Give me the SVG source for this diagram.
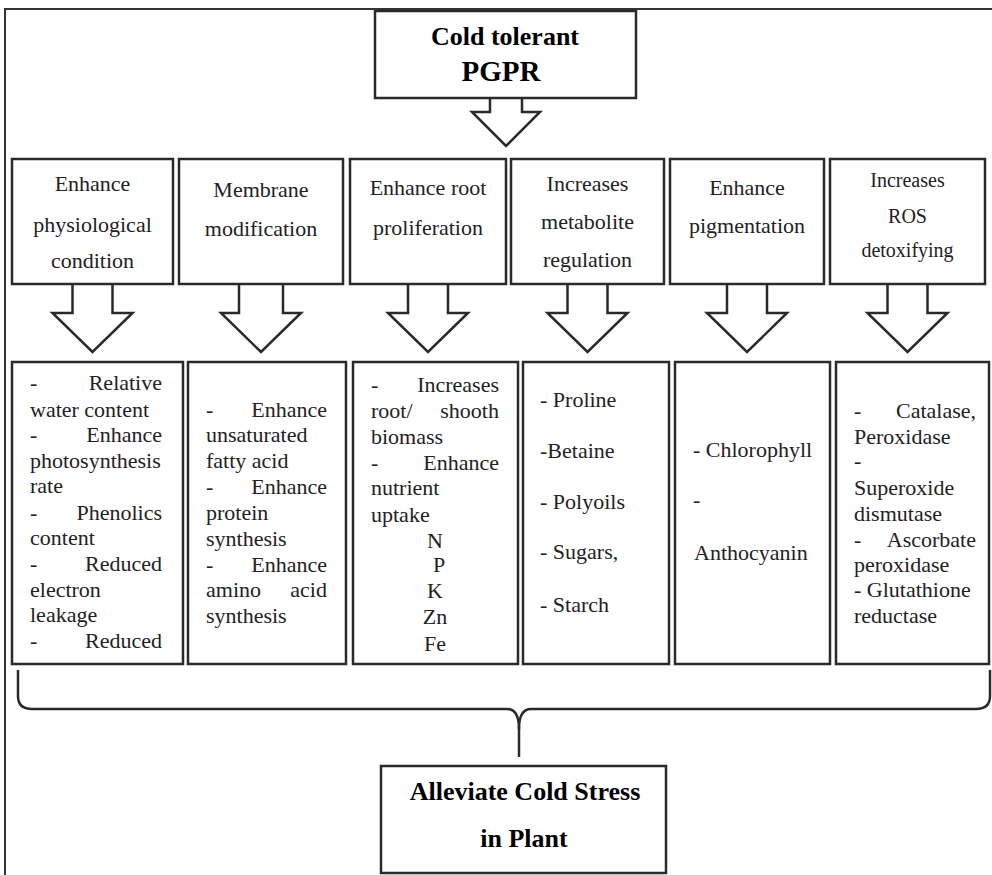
<svg xmlns="http://www.w3.org/2000/svg" width="992" height="875" viewBox="0 0 992 875">
<style>
.box{fill:#fff;stroke:#2a2a2a;stroke-width:2.5}
.frame{fill:none;stroke:#333;stroke-width:2}
.t{font-family:'Liberation Serif','Times New Roman',serif;font-size:22px;fill:#222}
.s{font-size:20px}
.c{text-anchor:middle}
.e{text-anchor:end}
.b{font-weight:bold;fill:#000;font-size:26px}
.arr{fill:#fff;stroke:#2a2a2a;stroke-width:2.5;stroke-linejoin:miter}
.brace{fill:none;stroke:#2a2a2a;stroke-width:2.5}
</style>
<rect width="992" height="875" fill="#fff"/>
<path class="frame" d="M5 875 L5 9 L992 9"/>

<g id="connectors">
<polyline class="arr" points="490,98 490,112 472,112 506,146 540,112 522,112 522,98"/>
<polyline class="arr" points="72.5,284 72.5,313 52.5,313 92.5,352 132.5,313 112.5,313 112.5,284"/>
<polyline class="arr" points="239,284 239,313 221,313 261,352 301,313 283,313 283,284"/>
<polyline class="arr" points="408,284 408,313 388,313 428,352 468,313 448,313 448,284"/>
<polyline class="arr" points="567.5,284 567.5,313 547.5,313 587.5,352 627.5,313 607.5,313 607.5,284"/>
<polyline class="arr" points="727,284 727,313 707,313 747,352 787,313 767,313 767,284"/>
<polyline class="arr" points="887.5,284 887.5,313 867.5,313 907.5,352 947.5,313 927.5,313 927.5,284"/>
<path class="brace" d="M18 670 L18 696 Q18 709 32 709 L507 709 Q519 709 519 729 Q519 709 531 709 L976 709 Q990 709 990 696 L990 670"/>
<path class="brace" d="M519 726 L519 757"/>
</g>

<g id="pgpr">
<rect class="box" x="375" y="11" width="261" height="87"/>
<text class="t b c" x="505" y="45">Cold tolerant</text>
<text class="t b c" x="501" y="81" style="font-size:29px">PGPR</text>
</g>

<g id="h1">
<rect class="box" x="12" y="159" width="161" height="125"/>
<text class="t c" x="92.5" y="191">Enhance</text>
<text class="t c" x="92.5" y="232">physiological</text>
<text class="t c" x="92.5" y="268">condition</text>
</g>
<g id="h2">
<rect class="box" x="179" y="159" width="164" height="125"/>
<text class="t c" x="261" y="197">Membrane</text>
<text class="t c" x="261" y="236">modification</text>
</g>
<g id="h3">
<rect class="box" x="350" y="159" width="156" height="125"/>
<text class="t c" x="428" y="195">Enhance root</text>
<text class="t c" x="428" y="235">proliferation</text>
</g>
<g id="h4">
<rect class="box" x="511" y="159" width="153" height="125"/>
<text class="t c" x="587.5" y="191">Increases</text>
<text class="t c" x="587.5" y="229">metabolite</text>
<text class="t c" x="587.5" y="267">regulation</text>
</g>
<g id="h5">
<rect class="box" x="670" y="159" width="154" height="125"/>
<text class="t c" x="747" y="195">Enhance</text>
<text class="t c" x="747" y="233">pigmentation</text>
</g>
<g id="h6">
<rect class="box" x="830" y="159" width="155" height="125"/>
<text class="t s c" x="907.5" y="187">Increases</text>
<text class="t s c" x="907.5" y="223">ROS</text>
<text class="t s c" x="907.5" y="257">detoxifying</text>
</g>

<g id="d1">
<rect class="box" x="12" y="362" width="171" height="302"/>
<text class="t" x="30" y="390">-</text><text class="t e" x="162" y="390">Relative</text>
<text class="t" x="30" y="417">water content</text>
<text class="t" x="30" y="442">-</text><text class="t e" x="162" y="442">Enhance</text>
<text class="t" x="30" y="468">photosynthesis</text>
<text class="t" x="30" y="493">rate</text>
<text class="t" x="30" y="520">-</text><text class="t e" x="162" y="520">Phenolics</text>
<text class="t" x="30" y="545">content</text>
<text class="t" x="30" y="571">-</text><text class="t e" x="162" y="571">Reduced</text>
<text class="t" x="30" y="597">electron</text>
<text class="t" x="30" y="622">leakage</text>
<text class="t" x="30" y="648">-</text><text class="t e" x="162" y="648">Reduced</text>
</g>
<g id="d2">
<rect class="box" x="188" y="362" width="158" height="302"/>
<text class="t" x="206" y="417">-</text><text class="t e" x="327" y="417">Enhance</text>
<text class="t" x="206" y="442">unsaturated</text>
<text class="t" x="206" y="468">fatty acid</text>
<text class="t" x="206" y="494">-</text><text class="t e" x="327" y="494">Enhance</text>
<text class="t" x="206" y="520">protein</text>
<text class="t" x="206" y="546">synthesis</text>
<text class="t" x="206" y="572">-</text><text class="t e" x="327" y="572">Enhance</text>
<text class="t" x="206" y="597">amino</text><text class="t e" x="327" y="597">acid</text>
<text class="t" x="206" y="623">synthesis</text>
</g>
<g id="d3">
<rect class="box" x="353" y="362" width="165" height="302"/>
<text class="t" x="371" y="392">-</text><text class="t e" x="499" y="392">Increases</text>
<text class="t" x="371" y="418">root/</text><text class="t e" x="499" y="418">shooth</text>
<text class="t" x="371" y="444">biomass</text>
<text class="t" x="371" y="470">-</text><text class="t e" x="499" y="470">Enhance</text>
<text class="t" x="371" y="495">nutrient</text>
<text class="t" x="371" y="522">uptake</text>
<text class="t c" x="435" y="548">N</text>
<text class="t c" x="439" y="572">P</text>
<text class="t c" x="435" y="598">K</text>
<text class="t c" x="435" y="624">Zn</text>
<text class="t c" x="435" y="651">Fe</text>
</g>
<g id="d4">
<rect class="box" x="523" y="362" width="146" height="302"/>
<text class="t" x="540" y="407">- Proline</text>
<text class="t" x="540" y="458">-Betaine</text>
<text class="t" x="540" y="509">- Polyoils</text>
<text class="t" x="540" y="559">- Sugars,</text>
<text class="t" x="540" y="612">- Starch</text>
</g>
<g id="d5">
<rect class="box" x="675" y="362" width="155" height="302"/>
<text class="t" x="693" y="457">- Chlorophyll</text>
<text class="t" x="693" y="507">-</text>
<text class="t" x="694" y="560">Anthocyanin</text>
</g>
<g id="d6">
<rect class="box" x="836" y="362" width="153" height="302"/>
<text class="t" x="854" y="418">-</text><text class="t e" x="976" y="418">Catalase,</text>
<text class="t" x="854" y="444">Peroxidase</text>
<text class="t" x="854" y="468">-</text>
<text class="t" x="854" y="495">Superoxide</text>
<text class="t" x="854" y="521">dismutase</text>
<text class="t" x="854" y="547">-</text><text class="t e" x="976" y="547">Ascorbate</text>
<text class="t" x="854" y="572">peroxidase</text>
<text class="t" x="854" y="597">- Glutathione</text>
<text class="t" x="854" y="623">reductase</text>
</g>

<g id="result">
<rect class="box" x="381" y="766" width="285" height="107"/>
<text class="t b c" x="525" y="800">Alleviate Cold Stress</text>
<text class="t b c" x="524" y="847">in Plant</text>
</g>
</svg>
